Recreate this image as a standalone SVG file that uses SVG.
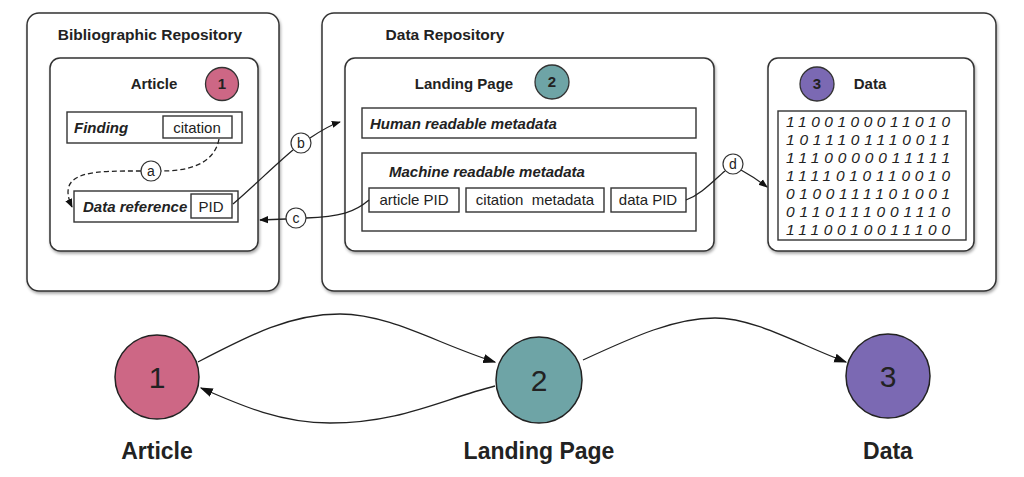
<svg xmlns="http://www.w3.org/2000/svg" width="1024" height="477" viewBox="0 0 1024 477">
<defs>
<style>
text{font-family:"Liberation Sans",Arial,sans-serif;fill:#222}
.h{font-size:15px;font-weight:bold}
.t{font-size:15.5px;font-weight:bold}
.bi{font-size:15px;font-weight:bold;font-style:italic}
.r{font-size:15px}
.big{font-size:23px;font-weight:bold}
.num{font-size:30px}
.bin{font-size:15.5px;font-style:italic}
.frame{fill:#fff;stroke:#333;stroke-width:1.5}
.box{fill:#fff;stroke:#333;stroke-width:1.4}
.ln{fill:none;stroke:#222;stroke-width:1.3}
.lbl{fill:#fff;stroke:#333;stroke-width:1.2}
.lt{font-size:14px;text-anchor:middle}
</style>
<filter id="sh" x="-5%" y="-5%" width="115%" height="115%">
<feDropShadow dx="1" dy="2" stdDeviation="1.5" flood-color="#000" flood-opacity="0.35"/>
</filter>
<marker id="ah" viewBox="0 0 10 10" refX="9" refY="5" markerWidth="9" markerHeight="9" orient="auto" markerUnits="userSpaceOnUse">
<path d="M0,1 L10,5 L0,9 z" fill="#111"/>
</marker>
<marker id="ahb" viewBox="0 0 10 10" refX="9" refY="5" markerWidth="13" markerHeight="13" orient="auto" markerUnits="userSpaceOnUse">
<path d="M0,1.5 L10,5 L0,8.5 z" fill="#111"/>
</marker>
</defs>
<rect width="1024" height="477" fill="#fff"/>

<g id="bib-repo">
<rect class="frame" x="27" y="13" width="252" height="278" rx="12" filter="url(#sh)"/>
<text class="t" x="150" y="40" text-anchor="middle">Bibliographic Repository</text>
</g>
<g id="data-repo">
<rect class="frame" x="322" y="13" width="674" height="278" rx="12" filter="url(#sh)"/>
<text class="t" x="445" y="40" text-anchor="middle">Data Repository</text>
</g>

<g id="article">
<rect class="frame" x="50" y="58" width="208" height="193" rx="10" filter="url(#sh)"/>
<text class="h" x="154" y="89" text-anchor="middle">Article</text>
<circle cx="222" cy="84" r="16.5" fill="#cd6785" stroke="#333" stroke-width="1.3"/>
<text class="h" x="222" y="89" text-anchor="middle" font-size="14">1</text>
<rect class="box" x="67" y="112" width="175" height="31"/>
<text class="bi" x="74" y="133">Finding</text>
<rect class="box" x="163" y="116" width="69" height="22"/>
<text class="r" x="197" y="133" text-anchor="middle">citation</text>
<rect class="box" x="74" y="191" width="164" height="31"/>
<text class="bi" x="83" y="212">Data reference</text>
<rect class="box" x="191" y="194" width="41" height="24"/>
<text class="r" x="211" y="212" text-anchor="middle">PID</text>
</g>

<g id="landing-page">
<rect class="frame" x="345" y="58" width="369" height="193" rx="10" filter="url(#sh)"/>
<text class="h" x="464" y="89" text-anchor="middle">Landing Page</text>
<circle cx="552" cy="82" r="17" fill="#6ea4a6" stroke="#333" stroke-width="1.3"/>
<text class="h" x="552" y="87" text-anchor="middle" font-size="14">2</text>
<rect class="box" x="362" y="108" width="334" height="30"/>
<text class="bi" x="370" y="129">Human readable metadata</text>
<rect class="box" x="362" y="153" width="334" height="78"/>
<text class="bi" x="389" y="177">Machine readable metadata</text>
<rect class="box" x="369" y="188" width="90" height="24"/>
<text class="r" x="414" y="205" text-anchor="middle">article PID</text>
<rect class="box" x="466" y="188" width="138" height="24"/>
<text class="r" x="535" y="205" text-anchor="middle" xml:space="preserve">citation  metadata</text>
<rect class="box" x="611" y="188" width="75" height="24"/>
<text class="r" x="648" y="205" text-anchor="middle">data PID</text>
</g>

<g id="data">
<rect class="frame" x="768" y="58" width="206" height="193" rx="10" filter="url(#sh)"/>
<circle cx="817" cy="84" r="17" fill="#7b69b3" stroke="#333" stroke-width="1.3"/>
<text class="h" x="817" y="89" text-anchor="middle" font-size="14">3</text>
<text class="h" x="870" y="89" text-anchor="middle">Data</text>
<rect class="box" x="778" y="111" width="188" height="129"/>
<text class="bin" x="786" y="127" textLength="164" lengthAdjust="spacing">1100100011010</text>
<text class="bin" x="786" y="145" textLength="164" lengthAdjust="spacing">1011101110011</text>
<text class="bin" x="786" y="163" textLength="164" lengthAdjust="spacing">1110000011111</text>
<text class="bin" x="786" y="181" textLength="164" lengthAdjust="spacing">1111010110010</text>
<text class="bin" x="786" y="199" textLength="164" lengthAdjust="spacing">0100111101001</text>
<text class="bin" x="786" y="217" textLength="164" lengthAdjust="spacing">0110111001110</text>
<text class="bin" x="786" y="235" textLength="164" lengthAdjust="spacing">1110010011100</text>
</g>

<g id="node-1">
<circle cx="157" cy="377" r="42" fill="#cd6785" stroke="#222" stroke-width="1.5"/>
<text class="num" x="157" y="388" text-anchor="middle">1</text>
<text class="big" x="157" y="459" text-anchor="middle">Article</text>
</g>
<g id="node-2">
<circle cx="539" cy="380" r="43" fill="#6ea4a6" stroke="#222" stroke-width="1.5"/>
<text class="num" x="539" y="391" text-anchor="middle">2</text>
<text class="big" x="539" y="459" text-anchor="middle">Landing Page</text>
</g>
<g id="node-3">
<circle cx="888" cy="376" r="42" fill="#7b69b3" stroke="#222" stroke-width="1.5"/>
<text class="num" x="888" y="387" text-anchor="middle">3</text>
<text class="big" x="888" y="459" text-anchor="middle">Data</text>
</g>

<g id="connectors">
<path class="ln" stroke-dasharray="5,3" d="M219 139 C214 166 185 171 161 171"/>
<path class="ln" stroke-dasharray="5,3" d="M141 171 C95 171 55 170 72 207" marker-end="url(#ah)"/>
<circle class="lbl" cx="151" cy="171" r="10"/>
<text class="lt" x="151" y="176">a</text>

<path class="ln" d="M233 204 C255 185 275 165 293 150"/>
<path class="ln" d="M310 138 C322 130 330 125 340 122" marker-end="url(#ah)"/>
<circle class="lbl" cx="301" cy="143" r="10"/>
<text class="lt" x="301" y="148">b</text>

<path class="ln" d="M369 200 C355 212 340 217 306 218"/>
<path class="ln" d="M286 219 L260 220" marker-end="url(#ah)"/>
<circle class="lbl" cx="296" cy="218" r="10"/>
<text class="lt" x="296" y="223">c</text>

<path class="ln" d="M686 200 C702 194 714 180 725 171"/>
<path class="ln" d="M741 170 C750 175 758 180 767 187" marker-end="url(#ah)"/>
<circle class="lbl" cx="733" cy="164" r="10"/>
<text class="lt" x="733" y="169">d</text>

<path class="ln" d="M198 362 C250 335 290 314 340 314 C390 314 440 345 495 362" marker-end="url(#ahb)"/>
<path class="ln" d="M495 386 C440 400 400 423 330 423 C280 423 240 405 201 388" marker-end="url(#ahb)"/>
<path class="ln" d="M583 360 C635 336 675 318 715 318 C755 318 800 345 846 362" marker-end="url(#ahb)"/>
</g>
</svg>
